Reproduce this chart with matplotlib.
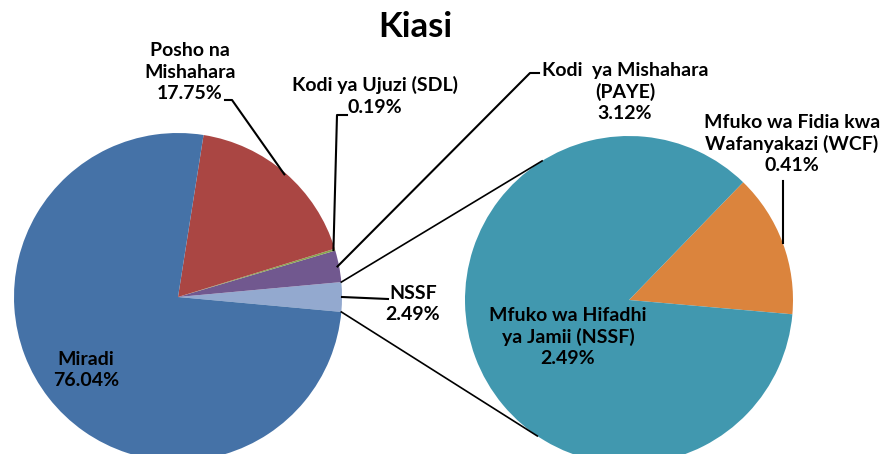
import numpy as np
import matplotlib.pyplot as plt

plt.rcParams['font.family'] = ['Lato', 'DejaVu Sans']

# Data
main_names = ['Miradi', 'Posho na\nMishahara', 'Kodi ya Ujuzi (SDL)', 'Kodi  ya Mishahara\n(PAYE)']
main_values = [76.04, 17.75, 0.19, 3.12]
sub_names = ['Mfuko wa Hifadhi\nya Jamii (NSSF)', 'Mfuko wa Fidia kwa\nWafanyakazi (WCF)']
sub_values = [2.49, 0.41]
other_name = 'NSSF'
other_shown = 2.49

main_colors = ['#4572A7', '#AA4643', '#89A54E', '#71588F']
other_color = '#93A9CF'
sub_colors = ['#4198AF', '#DB843D']

W, H = 883, 454
fig = plt.figure(figsize=(W / 100, H / 100), dpi=100)
ax = fig.add_axes([0, 0, 1, 1])

cL, rL = (178, 157), 164
cR, rR = (629, 154), 164

def pt(c, r, ang):
    a = np.deg2rad(ang)
    return c[0] + r * np.cos(a), c[1] + r * np.sin(a)

# left pie: other slice centred on the right, then the rest counterclockwise
other_total = sum(sub_values)
left_vals = [other_total] + main_values[::-1]
left_cols = [other_color] + main_colors[::-1]
start = -other_total / 100 * 360 / 2
wl, _ = ax.pie(left_vals, colors=left_cols, startangle=start, center=cL, radius=rL,
               wedgeprops=dict(linewidth=0), frame=True)
w_other = wl[0]
w_main = {n: w for n, w in zip(main_names[::-1], wl[1:])}

# right pie
wr, _ = ax.pie(sub_values[::-1], colors=sub_colors[::-1], startangle=-5, center=cR, radius=rR,
               wedgeprops=dict(linewidth=0), frame=True)
ax.set_xlim(0, W)
ax.set_ylim(0, H)
ax.set_aspect('equal')
ax.axis('off')

# connector lines between the pies
p1 = pt(cL, rL, w_other.theta2)
p2 = pt(cR, rR, 122)
ax.plot([p1[0], p2[0]], [p1[1], p2[1]], color='black', lw=1.2)
p1 = pt(cL, rL, w_other.theta1)
p2 = pt(cR, rR, 236)
ax.plot([p1[0], p2[0]], [p1[1], p2[1]], color='black', lw=1.2)

def mid(w):
    return (w.theta1 + w.theta2) / 2

fs = 14
tk = dict(fontsize=fs, fontweight='bold', ha='center', va='center', linespacing=1.3)

# Miradi label inside
ax.text(86, 84, f"{main_names[0]}\n{main_values[0]:.2f}%", **tk)

# Posho label + leader
ax.text(190, 382, f"{main_names[1]}\n{main_values[1]:.2f}%", **tk)
a = pt(cL, rL * 0.99, mid(w_main[main_names[1]]))
ax.plot([a[0], 232, 225], [a[1], 354, 354], color='black', lw=1.5)

# SDL label + leader
ax.text(375, 358, f"{main_names[2]}\n{main_values[2]:.2f}%", **tk)
a = pt(cL, rL * 0.99, mid(w_main[main_names[2]]))
ax.plot([a[0], 337, 347], [a[1], 339, 339], color='black', lw=1.5)

# PAYE label + leader
ax.text(625, 362, f"{main_names[3]}\n{main_values[3]:.2f}%", **tk)
a = pt(cL, rL * 0.99, mid(w_main[main_names[3]]))
ax.plot([a[0], 530, 539], [a[1], 381, 381], color='black', lw=1.5)

# other (NSSF) label + leader
ax.text(413, 150, f"{other_name}\n{other_shown:.2f}%", **tk)
a = pt(cL, rL, mid(w_other))
ax.plot([a[0], 388], [a[1], 155], color='black', lw=1.5)

# right pie labels
ax.text(568, 117, f"{sub_names[0]}\n{sub_values[0]:.2f}%", **tk)
ax.text(792, 310, f"{sub_names[1]}\n{sub_values[1]:.2f}%", **tk)
a = pt(cR, rR, mid(wr[0]))
ax.plot([a[0], a[0]], [a[1], 273], color='black', lw=1.5)

ax.text(415, 427, 'Kiasi', fontsize=25, fontweight='bold', ha='center', va='center')

plt.savefig('out.png', dpi=100)
